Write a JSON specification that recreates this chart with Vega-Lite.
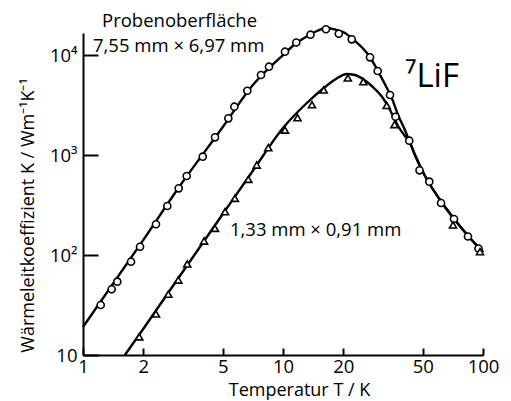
{
  "$schema": "https://vega.github.io/schema/vega-lite/v6.json",
  "width": 400,
  "height": 322,
  "autosize": {"type": "none"},
  "padding": {"left": 83, "top": 33, "right": 28, "bottom": 46},
  "background": "white",
  "config": {"view": {"stroke": null}, "font": "Open Sans"},
  "datasets": {
    "fit": [
      {"sample": "gross", "T": 1.0, "K": 19.05},
      {"sample": "gross", "T": 2.0, "K": 141},
      {"sample": "gross", "T": 3.0, "K": 468},
      {"sample": "gross", "T": 5.0, "K": 1905},
      {"sample": "gross", "T": 7.0, "K": 4898},
      {"sample": "gross", "T": 10, "K": 10000},
      {"sample": "gross", "T": 11.5, "K": 12882},
      {"sample": "gross", "T": 13, "K": 15136},
      {"sample": "gross", "T": 14.8, "K": 17378},
      {"sample": "gross", "T": 16.4, "K": 18620},
      {"sample": "gross", "T": 18.2, "K": 17989},
      {"sample": "gross", "T": 20, "K": 16982},
      {"sample": "gross", "T": 22.9, "K": 13804},
      {"sample": "gross", "T": 25, "K": 11749},
      {"sample": "gross", "T": 27.2, "K": 9550},
      {"sample": "gross", "T": 30, "K": 6761},
      {"sample": "gross", "T": 32.3, "K": 5129},
      {"sample": "gross", "T": 35.3, "K": 3548},
      {"sample": "gross", "T": 37.6, "K": 2512},
      {"sample": "gross", "T": 40.7, "K": 1778},
      {"sample": "gross", "T": 42.8, "K": 1380},
      {"sample": "gross", "T": 45.7, "K": 1000},
      {"sample": "gross", "T": 51.3, "K": 617},
      {"sample": "gross", "T": 61.0, "K": 355},
      {"sample": "gross", "T": 72.4, "K": 224},
      {"sample": "gross", "T": 86.1, "K": 148},
      {"sample": "gross", "T": 100, "K": 107},
      {"sample": "klein", "T": 1.62, "K": 10},
      {"sample": "klein", "T": 2.0, "K": 18.2},
      {"sample": "klein", "T": 3.0, "K": 58.9},
      {"sample": "klein", "T": 5.0, "K": 257},
      {"sample": "klein", "T": 7.0, "K": 676},
      {"sample": "klein", "T": 10, "K": 1862},
      {"sample": "klein", "T": 13, "K": 3236},
      {"sample": "klein", "T": 16, "K": 4677},
      {"sample": "klein", "T": 18.4, "K": 5754},
      {"sample": "klein", "T": 20.8, "K": 6457},
      {"sample": "klein", "T": 22.9, "K": 6310},
      {"sample": "klein", "T": 25.1, "K": 5754},
      {"sample": "klein", "T": 27.8, "K": 4898},
      {"sample": "klein", "T": 31.6, "K": 3715},
      {"sample": "klein", "T": 34.7, "K": 2692},
      {"sample": "klein", "T": 37.6, "K": 1950},
      {"sample": "klein", "T": 40.7, "K": 1549},
      {"sample": "klein", "T": 42.8, "K": 1380},
      {"sample": "klein", "T": 45.7, "K": 1000},
      {"sample": "klein", "T": 51.3, "K": 617},
      {"sample": "klein", "T": 61.0, "K": 355},
      {"sample": "klein", "T": 72.4, "K": 224},
      {"sample": "klein", "T": 86.1, "K": 148},
      {"sample": "klein", "T": 100, "K": 107}
    ],
    "pts": [
      {"sample": "gross", "T": 1.226, "K": 31.6},
      {"sample": "gross", "T": 1.391, "K": 45.4},
      {"sample": "gross", "T": 1.484, "K": 54.1},
      {"sample": "gross", "T": 1.738, "K": 85.7},
      {"sample": "gross", "T": 1.928, "K": 121},
      {"sample": "gross", "T": 2.317, "K": 203},
      {"sample": "gross", "T": 2.64, "K": 309},
      {"sample": "gross", "T": 3.01, "K": 464},
      {"sample": "gross", "T": 3.30, "K": 617},
      {"sample": "gross", "T": 3.97, "K": 962},
      {"sample": "gross", "T": 4.57, "K": 1503},
      {"sample": "gross", "T": 5.33, "K": 2328},
      {"sample": "gross", "T": 5.71, "K": 3041},
      {"sample": "gross", "T": 6.63, "K": 4395},
      {"sample": "gross", "T": 7.76, "K": 6310},
      {"sample": "gross", "T": 8.51, "K": 7640},
      {"sample": "gross", "T": 10.23, "K": 10790},
      {"sample": "gross", "T": 11.65, "K": 13340},
      {"sample": "gross", "T": 13.72, "K": 15960},
      {"sample": "gross", "T": 16.4, "K": 18100},
      {"sample": "gross", "T": 19.01, "K": 16330},
      {"sample": "gross", "T": 22.06, "K": 14350},
      {"sample": "gross", "T": 27.23, "K": 9480},
      {"sample": "gross", "T": 29.75, "K": 6918},
      {"sample": "gross", "T": 34.28, "K": 3981},
      {"sample": "gross", "T": 36.52, "K": 2415},
      {"sample": "gross", "T": 42.8, "K": 1390},
      {"sample": "gross", "T": 48.14, "K": 703},
      {"sample": "gross", "T": 53.9, "K": 541},
      {"sample": "gross", "T": 61.7, "K": 331},
      {"sample": "gross", "T": 71.6, "K": 229},
      {"sample": "gross", "T": 84.1, "K": 153},
      {"sample": "gross", "T": 94.95, "K": 116},
      {"sample": "klein", "T": 1.912, "K": 15.2},
      {"sample": "klein", "T": 2.317, "K": 25.7},
      {"sample": "klein", "T": 2.67, "K": 40.5},
      {"sample": "klein", "T": 2.996, "K": 56.2},
      {"sample": "klein", "T": 3.32, "K": 81.3},
      {"sample": "klein", "T": 4.03, "K": 138},
      {"sample": "klein", "T": 4.57, "K": 185},
      {"sample": "klein", "T": 5.13, "K": 271},
      {"sample": "klein", "T": 5.75, "K": 369},
      {"sample": "klein", "T": 6.71, "K": 571},
      {"sample": "klein", "T": 7.39, "K": 794},
      {"sample": "klein", "T": 8.44, "K": 1183},
      {"sample": "klein", "T": 10.23, "K": 1778},
      {"sample": "klein", "T": 11.82, "K": 2360},
      {"sample": "klein", "T": 13.96, "K": 3186},
      {"sample": "klein", "T": 15.98, "K": 4467},
      {"sample": "klein", "T": 21.09, "K": 5888},
      {"sample": "klein", "T": 25.2, "K": 5408},
      {"sample": "klein", "T": 33.0, "K": 3126},
      {"sample": "klein", "T": 36.1, "K": 2018},
      {"sample": "klein", "T": 70.8, "K": 200},
      {"sample": "klein", "T": 96.6, "K": 108}
    ],
    "notes": [
      {"kind": "note", "T": 1.245, "K": 19055, "label": "Probenoberfläche"},
      {"kind": "note", "T": 1.122, "K": 10715, "label": "7,55 mm × 6,97 mm"},
      {"kind": "note", "T": 5.43, "K": 155, "label": "1,33 mm × 0,91 mm"},
      {"kind": "big", "T": 40.7, "K": 4786, "label": "⁷LiF"}
    ]
  },
  "encoding": {
    "x": {
      "field": "T",
      "type": "quantitative",
      "scale": {"type": "log", "domain": [1, 100], "nice": false},
      "axis": {
        "values": [1, 2, 5, 10, 20, 50, 100],
        "format": "d",
        "title": "Temperatur T / K",
        "grid": false,
        "domainColor": "black",
        "domainWidth": 2,
        "tickColor": "black",
        "tickWidth": 2,
        "tickSize": -7,
        "labelPadding": 9,
        "labelFont": "Open Sans",
        "labelFontSize": 18.5,
        "labelColor": "black",
        "labelFlush": false,
        "labelOverlap": false,
        "titleFont": "Open Sans",
        "titleFontSize": 18,
        "titleFontWeight": "normal",
        "titleColor": "black",
        "titleX": 216,
        "titleY": 40,
        "titleBaseline": "alphabetic"
      }
    },
    "y": {
      "field": "K",
      "type": "quantitative",
      "scale": {"type": "log", "domain": [10, 16600], "nice": false},
      "axis": {
        "values": [10, 100, 1000, 10000],
        "labelExpr": "datum.value == 10 ? '10' : datum.value == 100 ? '10²' : datum.value == 1000 ? '10³' : '10⁴'",
        "title": "Wärmeleitkoeffizient K / Wm⁻¹K⁻¹",
        "grid": false,
        "domainColor": "black",
        "domainWidth": 2,
        "tickColor": "black",
        "tickWidth": 2,
        "tickSize": -15,
        "labelPadding": 21,
        "labelFont": "Open Sans",
        "labelFontSize": 18.5,
        "labelColor": "black",
        "labelFlush": false,
        "labelOverlap": false,
        "titleFont": "Open Sans",
        "titleFontSize": 18,
        "titleFontWeight": "normal",
        "titleColor": "black",
        "titleX": -50,
        "titleY": 182,
        "titleBaseline": "alphabetic"
      }
    }
  },
  "layer": [
    {
      "data": {"name": "fit"},
      "mark": {"type": "line", "color": "black", "strokeWidth": 2.4, "interpolate": "monotone"},
      "encoding": {"detail": {"field": "sample"}}
    },
    {
      "data": {"name": "pts"},
      "mark": {"type": "point", "filled": true, "fill": "white", "stroke": "black", "strokeWidth": 1.6, "opacity": 1, "size": 50},
      "encoding": {
        "shape": {
          "field": "sample",
          "type": "nominal",
          "scale": {"domain": ["gross", "klein"], "range": ["circle", "triangle-up"]},
          "legend": null
        }
      }
    },
    {
      "data": {"name": "notes"},
      "transform": [{"filter": "datum.kind == 'note'"}],
      "mark": {"type": "text", "align": "left", "baseline": "alphabetic", "font": "Open Sans", "fontSize": 18.5, "color": "black"},
      "encoding": {"text": {"field": "label"}}
    },
    {
      "data": {"name": "notes"},
      "transform": [{"filter": "datum.kind == 'big'"}],
      "mark": {"type": "text", "align": "left", "baseline": "alphabetic", "font": "Open Sans", "fontSize": 33, "color": "black"},
      "encoding": {"text": {"field": "label"}}
    }
  ]
}
